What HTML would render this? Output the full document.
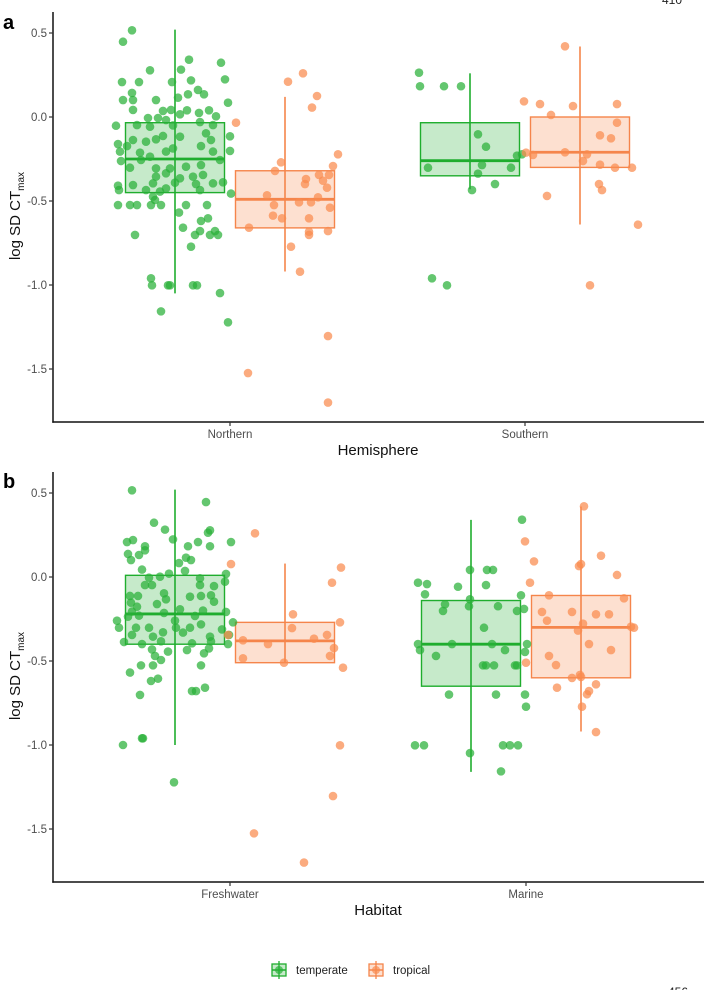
<!DOCTYPE html>
<html>
<head>
<meta charset="utf-8">
<style>
  html,body{margin:0;padding:0;background:#fff;}
  svg{display:block;}
  text{font-family:"Liberation Sans",Arial,sans-serif;}
</style>
</head>
<body>
<svg id="chart" width="704" height="990" viewBox="0 0 704 990" xmlns="http://www.w3.org/2000/svg">
  <text x="662" y="4" font-size="12" fill="#222">410</text>
  <text x="668" y="996" font-size="12" fill="#222">456</text>
  <g id="panelA"></g>
  <g id="panelB"></g>
  <g id="legend"></g>
</svg>
<script>
// ---------- DATA ----------
const yTicks = [0.5, 0.0, -0.5, -1.0, -1.5];
const yTickLabels = ["0.5", "0.0", "-0.5", "-1.0", "-1.5"];
const groups = ["temperate", "tropical"];
const catsA = ["Northern", "Southern"];
const catsB = ["Freshwater", "Marine"];

// box stats: [whiskerLow, q1, median, q3, whiskerHigh]
const boxA_Northern_temperate = [-1.05, -0.45, -0.25, -0.034, 0.52];
const boxA_Northern_tropical  = [-0.92, -0.66, -0.49, -0.32, 0.12];
const boxA_Southern_temperate = [-0.43, -0.35, -0.26, -0.034, 0.26];
const boxA_Southern_tropical  = [-0.64, -0.30, -0.21, 0.0, 0.42];
const boxB_Freshwater_temperate = [-1.0, -0.40, -0.22, 0.01, 0.52];
const boxB_Freshwater_tropical  = [-0.51, -0.51, -0.38, -0.27, 0.08];
const boxB_Marine_temperate = [-1.16, -0.65, -0.40, -0.14, 0.34];
const boxB_Marine_tropical  = [-0.92, -0.60, -0.30, -0.11, 0.42];

// points: [jitter (fraction of box width), value]
const ptsA_Northern_temperate = [[-0.43,0.516],[-0.52,0.448],[0.14,0.341],[0.46,0.323],[-0.25,0.278],[0.06,0.282],[-0.53,0.208],[-0.36,0.208],[-0.03,0.208],[0.16,0.218],[0.5,0.224],[-0.43,0.143],[0.23,0.161],[0.29,0.135],[0.13,0.135],[-0.52,0.101],[-0.42,0.101],[-0.19,0.101],[0.03,0.115],[0.53,0.085],[-0.42,0.042],[-0.12,0.036],[-0.04,0.042],[0.12,0.040],[0.24,0.024],[0.34,0.040],[0.41,0.004],[-0.27,-0.006],[-0.17,-0.006],[-0.09,-0.018],[0.05,0.016],[-0.59,-0.052],[-0.38,-0.048],[-0.25,-0.058],[0.25,-0.030],[0.38,-0.048],[-0.02,-0.050],[-0.42,-0.137],[-0.29,-0.147],[-0.12,-0.113],[0.05,-0.117],[0.31,-0.097],[0.55,-0.115],[-0.57,-0.161],[-0.48,-0.173],[-0.19,-0.133],[-0.02,-0.187],[0.26,-0.173],[0.36,-0.137],[-0.55,-0.206],[-0.35,-0.212],[-0.25,-0.236],[-0.09,-0.206],[0.38,-0.206],[0.55,-0.202],[-0.54,-0.262],[-0.45,-0.302],[-0.34,-0.256],[-0.19,-0.306],[-0.05,-0.306],[0.11,-0.296],[0.26,-0.286],[0.45,-0.256],[-0.19,-0.355],[-0.09,-0.335],[0.05,-0.365],[0.18,-0.355],[0.28,-0.345],[-0.57,-0.409],[-0.42,-0.405],[-0.22,-0.395],[0,-0.391],[0.21,-0.399],[0.38,-0.395],[0.48,-0.389],[-0.56,-0.435],[-0.29,-0.435],[-0.15,-0.444],[0.25,-0.435],[0.56,-0.456],[-0.22,-0.474],[-0.09,-0.425],[-0.57,-0.524],[-0.45,-0.524],[-0.38,-0.524],[-0.24,-0.524],[-0.14,-0.524],[0.11,-0.524],[0.32,-0.524],[-0.2,-0.494],[0.04,-0.569],[0.26,-0.619],[0.33,-0.603],[0.08,-0.659],[0.25,-0.679],[0.2,-0.702],[0.4,-0.679],[0.35,-0.702],[0.43,-0.702],[-0.4,-0.702],[0.16,-0.772],[-0.24,-0.960],[-0.23,-1.002],[-0.07,-1.002],[-0.05,-1.002],[0.18,-1.002],[0.22,-1.002],[0.45,-1.048],[-0.14,-1.157],[0.53,-1.222]];
const ptsA_Northern_tropical = [[-0.49,-0.034],[0.03,0.210],[0.18,0.260],[0.32,0.125],[0.27,0.056],[0.53,-0.222],[-0.04,-0.270],[0.48,-0.292],[-0.1,-0.321],[0.34,-0.345],[0.44,-0.345],[0.21,-0.369],[0.2,-0.399],[0.38,-0.379],[0.42,-0.421],[-0.18,-0.466],[0.33,-0.478],[-0.11,-0.524],[0.14,-0.508],[0.26,-0.508],[0.45,-0.540],[-0.12,-0.587],[-0.03,-0.603],[0.24,-0.603],[-0.36,-0.659],[0.24,-0.683],[0.24,-0.702],[0.43,-0.679],[0.06,-0.772],[0.15,-0.921],[-0.37,-1.524],[0.43,-1.304],[0.43,-1.700]];
const ptsA_Southern_temperate = [[-0.51,0.264],[-0.5,0.183],[-0.26,0.183],[-0.09,0.183],[0.08,-0.103],[0.16,-0.177],[-0.42,-0.302],[0.12,-0.286],[0.08,-0.337],[0.41,-0.302],[0.47,-0.230],[0.52,-0.222],[0.25,-0.399],[0.02,-0.435],[-0.38,-0.960],[-0.23,-1.002]];
const ptsA_Southern_tropical = [[-0.15,0.421],[-0.56,0.093],[-0.4,0.077],[-0.07,0.065],[0.37,0.077],[-0.29,0.012],[0.37,-0.034],[0.2,-0.109],[0.31,-0.127],[-0.54,-0.212],[-0.47,-0.226],[-0.15,-0.210],[0.07,-0.222],[0.03,-0.262],[0.2,-0.284],[0.35,-0.302],[0.52,-0.302],[0.19,-0.399],[0.22,-0.435],[-0.33,-0.470],[0.58,-0.641],[0.1,-1.002]];
const ptsB_Freshwater_temperate = [[-0.43,0.516],[0.31,0.446],[-0.21,0.323],[-0.1,0.282],[-0.48,0.208],[-0.42,0.220],[-0.02,0.224],[0.33,0.264],[0.35,0.278],[0.56,0.208],[0.23,0.208],[0.13,0.183],[0.35,0.183],[-0.3,0.183],[-0.3,0.159],[-0.47,0.137],[-0.44,0.101],[-0.36,0.131],[0.11,0.115],[0.16,0.101],[0.04,0.083],[-0.33,0.044],[-0.06,0.020],[0.1,0.036],[-0.15,0.002],[-0.26,-0.004],[0.25,-0.008],[0.51,0.018],[0.5,-0.028],[-0.3,-0.048],[-0.23,-0.048],[0.25,-0.048],[0.39,-0.054],[-0.45,-0.113],[-0.37,-0.113],[-0.11,-0.097],[-0.09,-0.133],[0.15,-0.117],[0.26,-0.113],[0.36,-0.109],[0.39,-0.147],[-0.44,-0.153],[-0.38,-0.177],[-0.18,-0.161],[-0.43,-0.206],[-0.36,-0.230],[-0.11,-0.214],[0.05,-0.192],[0.28,-0.200],[0.51,-0.208],[-0.58,-0.260],[-0.47,-0.236],[0,-0.260],[0.2,-0.232],[0.58,-0.270],[-0.56,-0.302],[-0.39,-0.302],[-0.26,-0.302],[0.01,-0.302],[0.15,-0.302],[0.26,-0.282],[0.47,-0.312],[-0.12,-0.329],[0.08,-0.331],[-0.43,-0.345],[-0.22,-0.355],[0.35,-0.355],[0.54,-0.345],[-0.51,-0.387],[-0.33,-0.399],[-0.14,-0.383],[0.17,-0.395],[0.36,-0.383],[0.53,-0.399],[-0.23,-0.431],[-0.07,-0.444],[0.12,-0.435],[0.29,-0.454],[0.34,-0.425],[-0.2,-0.470],[-0.14,-0.494],[-0.34,-0.526],[-0.22,-0.526],[0.26,-0.526],[-0.45,-0.569],[-0.24,-0.619],[-0.17,-0.605],[0.17,-0.679],[0.21,-0.679],[0.3,-0.659],[-0.35,-0.702],[-0.52,-1.0],[-0.33,-0.960],[-0.32,-0.960],[-0.01,-1.222]];
const ptsB_Freshwater_tropical = [[-0.3,0.260],[-0.54,0.077],[0.56,0.056],[0.47,-0.034],[0.08,-0.222],[0.55,-0.270],[0.07,-0.304],[-0.57,-0.345],[0.42,-0.345],[0.29,-0.367],[-0.42,-0.377],[-0.17,-0.399],[0.49,-0.423],[-0.42,-0.484],[-0.01,-0.510],[0.45,-0.470],[0.58,-0.540],[0.55,-1.002],[0.48,-1.304],[-0.31,-1.526],[0.19,-1.700]];
const ptsB_Marine_temperate = [[0.51,0.341],[-0.53,-0.034],[-0.44,-0.042],[-0.46,-0.103],[-0.13,-0.058],[-0.01,0.042],[0.16,0.042],[0.22,0.042],[0.15,-0.048],[0.5,-0.109],[-0.01,-0.133],[-0.26,-0.163],[-0.28,-0.202],[-0.02,-0.174],[0.27,-0.174],[0.46,-0.202],[0.53,-0.190],[0.13,-0.302],[-0.53,-0.399],[-0.51,-0.435],[-0.19,-0.399],[0.21,-0.399],[0.34,-0.435],[0.56,-0.399],[0.54,-0.446],[-0.35,-0.470],[0.12,-0.526],[0.15,-0.526],[0.23,-0.526],[0.44,-0.526],[0.46,-0.526],[-0.22,-0.700],[0.25,-0.700],[0.54,-0.700],[0.55,-0.772],[-0.56,-1.002],[-0.47,-1.002],[0.32,-1.002],[0.39,-1.002],[0.47,-1.002],[-0.01,-1.048],[0.3,-1.157]];
const ptsB_Marine_tropical = [[0.03,0.421],[-0.56,0.212],[-0.47,0.093],[0.2,0.127],[-0.02,0.065],[0,0.077],[0.36,0.012],[-0.51,-0.034],[-0.32,-0.109],[0.43,-0.127],[-0.39,-0.208],[-0.09,-0.208],[0.15,-0.222],[0.28,-0.222],[-0.34,-0.260],[0.02,-0.278],[-0.03,-0.319],[0.5,-0.296],[0.53,-0.302],[0.08,-0.399],[0.3,-0.435],[-0.55,-0.510],[-0.32,-0.470],[-0.25,-0.524],[-0.09,-0.601],[0,-0.595],[-0.01,-0.583],[-0.24,-0.659],[0.15,-0.639],[0.08,-0.679],[0.06,-0.698],[0.01,-0.772],[0.15,-0.923]];

// ---------- RENDER ----------
const NS = "http://www.w3.org/2000/svg";
const COLORS = {
  temperate: {line:"#1fad2e", fill:"rgba(34,172,50,0.26)", pt:"rgb(40,176,56)"},
  tropical:  {line:"#f5854b", fill:"rgba(248,140,80,0.27)", pt:"rgb(250,138,78)"}
};
function mk(tag, attrs, parent){
  const e = document.createElementNS(NS, tag);
  for (const k in attrs) e.setAttribute(k, attrs[k]);
  parent.appendChild(e);
  return e;
}
const BOXW = 99, DODGE = 55;

function drawPanel(g, cfg){
  const yScale = v => cfg.zeroY - v * 168;
  const xCat = i => cfg.catX0 + i * (cfg.catX1 - cfg.catX0);
  // boxes and points
  cfg.cats.forEach((cat, ci) => {
    groups.forEach((grp, gi) => {
      const cx = xCat(ci) + (gi === 0 ? -DODGE : DODGE);
      const b = cfg.boxes[ci][gi];
      const c = COLORS[grp];
      const bg = mk("g", {}, g);
      
      
      const wl = mk("line", {x1:cx, x2:cx, y1:yScale(b[0]), y2:yScale(b[4]), stroke:c.line, "stroke-width":1.6}, bg);
      
      
      const r = mk("rect", {x:cx - BOXW/2, y:yScale(b[3]), width:BOXW, height:yScale(b[1]) - yScale(b[3]), fill:c.fill, stroke:c.line, "stroke-width":1.4}, bg);
      
      
      const m = mk("line", {x1:cx - BOXW/2, x2:cx + BOXW/2, y1:yScale(b[2]), y2:yScale(b[2]), stroke:c.line, "stroke-width":2.8}, bg);
      
      
    });
  });
  cfg.cats.forEach((cat, ci) => {
    groups.forEach((grp, gi) => {
      const cx = xCat(ci) + (gi === 0 ? -DODGE : DODGE);
      const pts = cfg.points[ci][gi];
      const c = COLORS[grp];
      pts.forEach(p => {
        const dot = mk("circle", {cx: cx + p[0] * 100, cy: yScale(p[1]), r: 4.3, fill: c.pt, "fill-opacity": 0.72}, g);
        
        
      });
    });
  });
  // axes
  const ya = mk("line", {x1:53, x2:53, y1:cfg.top, y2:cfg.bottom + 0.7, stroke:"#111", "stroke-width":1.5}, g);
  
  
  const xa = mk("line", {x1:52.3, x2:704, y1:cfg.bottom, y2:cfg.bottom, stroke:"#111", "stroke-width":1.5}, g);
  
  
  yTicks.forEach((v, i) => {
    const y = yScale(v);
    const t = mk("line", {x1:49, x2:53, y1:y, y2:y, stroke:"#333", "stroke-width":1.2}, g);
    
    
    const tl = mk("text", {x:47, y:y + 4, "text-anchor":"end", "font-size":11.5, fill:"#4d4d4d"}, g);
    tl.textContent = yTickLabels[i];
    
    
  });
  cfg.cats.forEach((cat, ci) => {
    const x = xCat(ci);
    const t = mk("line", {x1:x, x2:x, y1:cfg.bottom, y2:cfg.bottom + 4, stroke:"#333", "stroke-width":1.2}, g);
    
    
    const tl = mk("text", {x:x, y:cfg.bottom + 16, "text-anchor":"middle", "font-size":11.5, fill:"#4d4d4d"}, g);
    tl.textContent = cat;
    
    
  });
  const xt = mk("text", {x:378, y:cfg.bottom + 33, "text-anchor":"middle", "font-size":15, fill:"#111"}, g);
  xt.textContent = cfg.xTitle;
  
  
  const yt = mk("text", {x:0, y:0, "text-anchor":"middle", "font-size":15, fill:"#111", transform:"translate(20," + cfg.yTitleY + ") rotate(-90)"}, g);
  
  
  const t1 = document.createElementNS(NS, "tspan"); t1.textContent = "log SD CT"; yt.appendChild(t1);
  const t2 = document.createElementNS(NS, "tspan"); t2.setAttribute("font-size", "10"); t2.setAttribute("dy", "4"); t2.textContent = "max"; yt.appendChild(t2);
  const pl = mk("text", {x:3, y:cfg.labelY, "font-size":20, "font-weight":"bold", fill:"#000"}, g);
  pl.textContent = cfg.label;
  
  
}

drawPanel(document.getElementById("panelA"), {
  cats: catsA, zeroY: 117, top: 12, bottom: 422, catX0: 230, catX1: 525,
  xTitle: "Hemisphere", yTitleY: 216, label: "a", labelY: 29,
  boxes: [[boxA_Northern_temperate, boxA_Northern_tropical],[boxA_Southern_temperate, boxA_Southern_tropical]],
  points: [[ptsA_Northern_temperate, ptsA_Northern_tropical],[ptsA_Southern_temperate, ptsA_Southern_tropical]]
});
drawPanel(document.getElementById("panelB"), {
  cats: catsB, zeroY: 577, top: 472, bottom: 882, catX0: 230, catX1: 526,
  xTitle: "Habitat", yTitleY: 676, label: "b", labelY: 488,
  boxes: [[boxB_Freshwater_temperate, boxB_Freshwater_tropical],[boxB_Marine_temperate, boxB_Marine_tropical]],
  points: [[ptsB_Freshwater_temperate, ptsB_Freshwater_tropical],[ptsB_Marine_temperate, ptsB_Marine_tropical]]
});

// legend
(function(){
  const lg = document.getElementById("legend");
  const items = [{grp:"temperate", x:271, tx:296}, {grp:"tropical", x:368, tx:393}];
  items.forEach(it => {
    const c = COLORS[it.grp];
    const k = mk("g", {}, lg);
    
    
    mk("line", {x1:it.x + 8, x2:it.x + 8, y1:961, y2:979, stroke:c.line, "stroke-width":1.3}, k);
    mk("rect", {x:it.x + 1, y:964, width:14, height:12, fill:c.fill, stroke:c.line, "stroke-width":1.3}, k);
    mk("line", {x1:it.x + 1, x2:it.x + 15, y1:970, y2:970, stroke:c.line, "stroke-width":1.5}, k);
    mk("circle", {cx:it.x + 8, cy:970, r:4, fill:c.pt, "fill-opacity":0.7}, k);
    const t = mk("text", {x:it.tx, y:974, "font-size":11.5, fill:"#222"}, lg);
    t.textContent = it.grp;
    
    
  });
})();
</script>
</body>
</html>
